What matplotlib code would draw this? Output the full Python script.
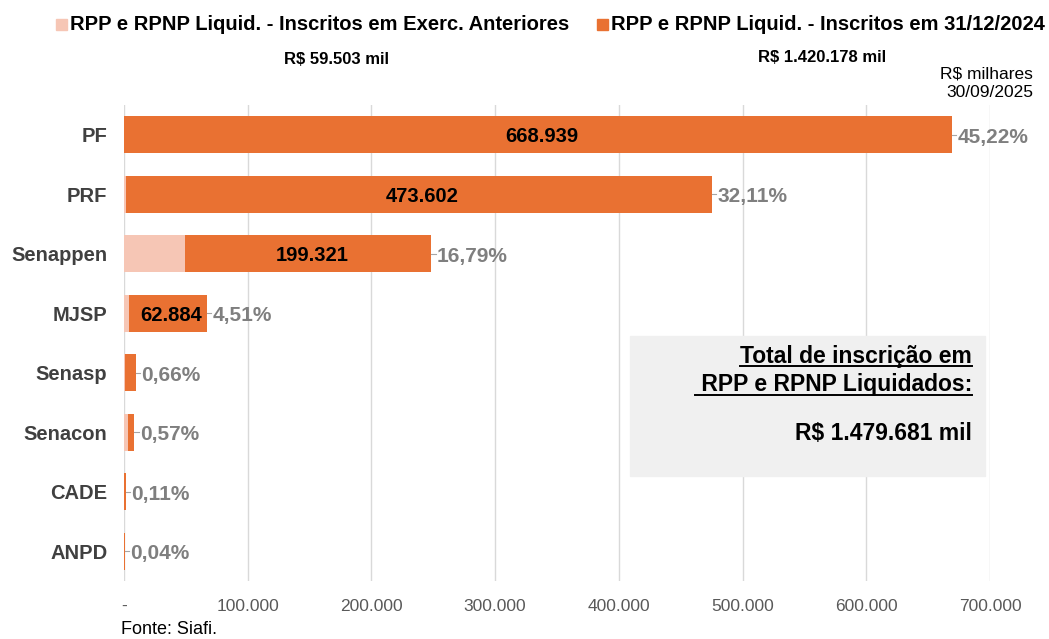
import numpy as np
import matplotlib.pyplot as plt
from matplotlib.patches import Rectangle
from matplotlib.lines import Line2D

plt.rcParams['font.family'] = ['Liberation Sans', 'DejaVu Sans']

categories = ["PF", "PRF", "Senappen", "MJSP", "Senasp", "Senacon", "CADE", "ANPD"]
anteriores = [173, 1524, 49117, 3850, 939, 3400, 200, 300]
inscritos_2024 = [668939, 473602, 199321, 62884, 8741, 4970, 1429, 292]
percent_labels = ["45,22%", "32,11%", "16,79%", "4,51%", "0,66%", "0,57%", "0,11%", "0,04%"]
inside_labels = ["668.939", "473.602", "199.321", "62.884", "", "", "", ""]
xticks = [0, 100000, 200000, 300000, 400000, 500000, 600000, 700000]
xtick_labels = ["-", "100.000", "200.000", "300.000", "400.000", "500.000", "600.000", "700.000"]

c_ant = "#F6C6B5"
c_2024 = "#E97132"

fig = plt.figure(figsize=(10.49, 6.39), dpi=100)
ax = fig.add_axes([124 / 1049, 1 - 581 / 639, (990 - 124) / 1049, 476 / 639])

y = np.arange(len(categories))
ax.barh(y, anteriores, height=0.62, color=c_ant, zorder=3)
ax.barh(y, inscritos_2024, left=anteriores, height=0.62, color=c_2024, zorder=3)

for i in range(len(categories)):
    total = anteriores[i] + inscritos_2024[i]
    if inside_labels[i]:
        ax.text(anteriores[i] + inscritos_2024[i] / 2 + 3000, i + 0.03, inside_labels[i],
                ha="center", va="center", fontsize=14.5, fontweight="bold", color="black", zorder=4)
    ax.plot([total, total + 3500], [i, i], color="#a6a6a6", lw=0.8, zorder=4, clip_on=False)
    ax.text(total + 4500, i + 0.04, percent_labels[i], ha="left", va="center", fontsize=15,
            fontweight="bold", color="#7f7f7f", zorder=4, clip_on=False)

ax.set_xlim(0, 700000)
ax.set_ylim(len(categories) - 0.5, -0.5)
ax.set_xticks(xticks)
ax.set_xticklabels(xtick_labels, fontsize=12.5, color="#595959")
ax.set_yticks(y)
ax.set_yticklabels(categories, fontsize=14.5, fontweight="bold", color="#404040")
ax.tick_params(axis="both", length=0)
ax.tick_params(axis="x", pad=13)
ax.tick_params(axis="y", pad=12)
ax.grid(axis="x", color="#d9d9d9", lw=1, zorder=0)
for s in ax.spines.values():
    s.set_visible(False)

# legend
fig.patches.append(Rectangle((56 / 1049, 1 - 30 / 639), 11 / 1049, 11 / 639, color=c_ant,
                             transform=fig.transFigure, figure=fig))
fig.text(70 / 1049, 1 - 24 / 639, "RPP e RPNP Liquid. - Inscritos em Exerc. Anteriores",
         fontsize=14.5, fontweight="bold", va="center")
fig.patches.append(Rectangle((597 / 1049, 1 - 30 / 639), 11 / 1049, 11 / 639, color=c_2024,
                             transform=fig.transFigure, figure=fig))
fig.text(611 / 1049, 1 - 24 / 639, "RPP e RPNP Liquid. - Inscritos em 31/12/2024",
         fontsize=14.5, fontweight="bold", va="center")

fig.text(336 / 1049, 1 - 60 / 639, "R$ 59.503 mil", fontsize=12, fontweight="bold",
         ha="center", va="center")
fig.text(822 / 1049, 1 - 58 / 639, "R$ 1.420.178 mil", fontsize=12, fontweight="bold",
         ha="center", va="center")
fig.text(1033 / 1049, 1 - 83 / 639, "R$ milhares\n30/09/2025", fontsize=12.5,
         ha="right", va="center", linespacing=1.3)

# total box
fig.patches.append(Rectangle((630 / 1049, 1 - 476 / 639), 355 / 1049, 140 / 639, color="#f0f0f0",
                             transform=fig.transFigure, figure=fig, zorder=5))
t1 = fig.text(972 / 1049, 1 - 356 / 639, "Total de inscrição em", fontsize=16.5, fontweight="bold",
              ha="right", va="center", zorder=6)
t2 = fig.text(972 / 1049, 1 - 385 / 639, " RPP e RPNP Liquidados:", fontsize=16.5, fontweight="bold",
              ha="right", va="center", zorder=6)
fig.text(972 / 1049, 1 - 433 / 639, "R$ 1.479.681 mil", fontsize=16.5, fontweight="bold",
         ha="right", va="center", zorder=6)

fig.text(121 / 1049, 1 - 630 / 639, "Fonte: Siafi.", fontsize=13, va="center")

fig.canvas.draw()
r = fig.canvas.get_renderer()
for t in (t1, t2):
    bb = t.get_window_extent(r)
    yy = bb.y0 + 2
    fig.lines.append(Line2D([bb.x0 / fig.bbox.width, bb.x1 / fig.bbox.width],
                            [yy / fig.bbox.height, yy / fig.bbox.height], color="black", lw=1.4,
                            transform=fig.transFigure, figure=fig, zorder=6))

fig.savefig("out.png", dpi=100)
